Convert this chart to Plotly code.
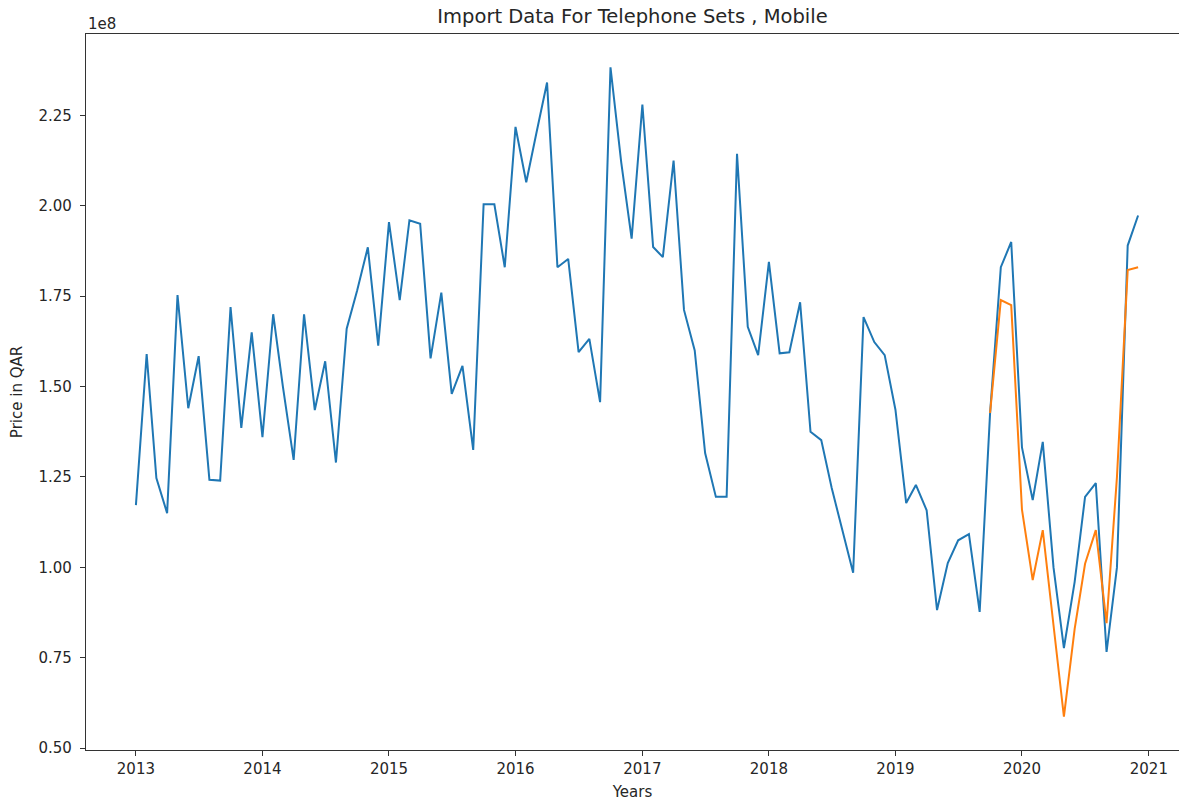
import pandas as pd
import plotly.graph_objects as go

# Monthly import value of mobile telephone sets, in units of 1e8 QAR
months = pd.date_range("2013-01-01", "2020-12-01", freq="MS")
actual = [
    1.172, 1.590, 1.247, 1.150, 1.753, 1.440, 1.584, 1.242, 1.240, 1.720, 1.386, 1.650,  # 2013
    1.360, 1.700, 1.500, 1.297, 1.700, 1.435, 1.570, 1.290, 1.660, 1.765, 1.885, 1.613,  # 2014
    1.955, 1.739, 1.960, 1.950, 1.578, 1.760, 1.480, 1.557, 1.325, 2.004, 2.004, 1.830,  # 2015
    2.218, 2.065, 2.200, 2.341, 1.830, 1.853, 1.595, 1.632, 1.457, 2.383, 2.120, 1.909,  # 2016
    2.280, 1.886, 1.858, 2.125, 1.712, 1.600, 1.316, 1.195, 1.195, 2.144, 1.665, 1.587,  # 2017
    1.845, 1.592, 1.595, 1.733, 1.375, 1.352, 1.220, 1.100, 0.985, 1.692, 1.623, 1.587,  # 2018
    1.436, 1.178, 1.228, 1.158, 0.882, 1.012, 1.075, 1.092, 0.877, 1.426, 1.830, 1.900,  # 2019
    1.332, 1.186, 1.347, 1.000, 0.777, 0.960, 1.195, 1.233, 0.766, 1.000, 1.890, 1.973,  # 2020
]

# Forecast over the last 15 months
forecast_months = pd.date_range("2019-10-01", "2020-12-01", freq="MS")
forecast = [
    1.427, 1.739, 1.725,                                                                 # 2019
    1.160, 0.965, 1.103, 0.840, 0.587, 0.830, 1.010, 1.103, 0.846, 1.250, 1.822, 1.830,  # 2020
]

y_ticks = [0.50, 0.75, 1.00, 1.25, 1.50, 1.75, 2.00, 2.25]
x_ticks = [f"{y}-01-01" for y in range(2013, 2022)]
x_labels = [str(y) for y in range(2013, 2022)]

FONT = "DejaVu Sans"
INK = "#262626"

fig = go.Figure()
fig.add_trace(go.Scatter(x=months, y=actual, mode="lines",
                         line=dict(color="#1f77b4", width=2), name="actual"))
fig.add_trace(go.Scatter(x=forecast_months, y=forecast, mode="lines",
                         line=dict(color="#ff7f0e", width=2), name="forecast"))

fig.update_layout(
    width=1179, height=801,
    margin=dict(l=86, r=0, t=34, b=51),
    paper_bgcolor="white", plot_bgcolor="white",
    showlegend=False,
    font=dict(family=FONT, size=15, color=INK),
    title=dict(text="Import Data For Telephone Sets , Mobile",
               x=0.5, xref="paper", xanchor="center",
               y=1, yref="paper", yanchor="bottom", pad=dict(b=11),
               font=dict(family=FONT, size=19.5, color=INK)),
    xaxis=dict(
        type="date", range=["2012-08-10", "2021-03-29"],
        tickvals=x_ticks, ticktext=x_labels,
        showgrid=False, zeroline=False,
        showline=True, linecolor="#333333", linewidth=1.2, mirror=True,
        ticks="outside", ticklen=5, tickwidth=1.2, tickcolor="#333333",
        tickfont=dict(family=FONT, size=15, color=INK),
        title=dict(text="Years", standoff=9, font=dict(family=FONT, size=15, color=INK)),
    ),
    yaxis=dict(
        range=[0.495, 2.475],
        tickvals=y_ticks, ticktext=[f"{v:.2f}" for v in y_ticks],
        showgrid=False, zeroline=False,
        showline=True, linecolor="#333333", linewidth=1.2,
        ticks="outside", ticklen=5, tickwidth=1.2, tickcolor="#333333",
        ticklabelstandoff=5,
        tickfont=dict(family=FONT, size=15, color=INK),
        title=dict(text="Price in QAR", standoff=12, font=dict(family=FONT, size=15, color=INK)),
    ),
    annotations=[dict(text="1e8", x=0, xref="paper", xanchor="left",
                      y=1, yref="paper", yanchor="bottom", yshift=-1,
                      showarrow=False, font=dict(family=FONT, size=15, color=INK))],
)

fig.write_html("out.html")
